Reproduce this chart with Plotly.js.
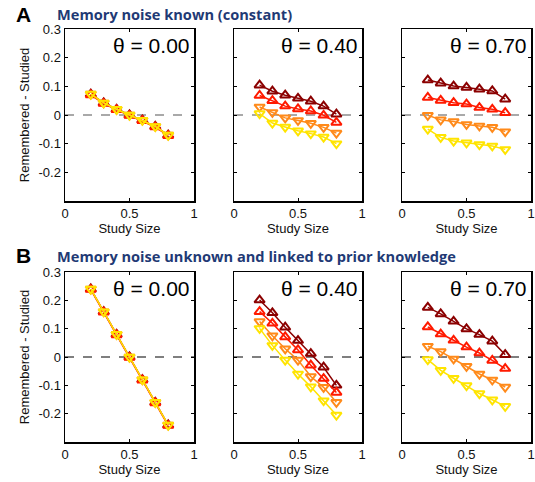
<!DOCTYPE html>
<html><head><meta charset="utf-8">
<script src="https://cdn.plot.ly/plotly-3.0.1.min.js"></script>
<style>html,body{margin:0;padding:0;background:#fff}</style></head>
<body><div id="chart" style="width:535px;height:482px"></div>
<script>
// ---- data ----
const studySize = [0.2, 0.3, 0.4, 0.5, 0.6, 0.7, 0.8];
const thetaLabels = ["θ = 0.00", "θ = 0.40", "θ = 0.70"];
const xTickVals = [0, 0.5, 1];
const xTickText = ["0", "0.5", "1"];
const yTickVals = [0.3, 0.2, 0.1, 0, -0.1, -0.2];
const yTickText = ["0.3", "0.2", "0.1", "0", "-0.1", "-0.2"];

// Panel A (memory noise known)
const A_t00_s1 = [0.073, 0.042, 0.020, 0.000, -0.018, -0.040, -0.070];
const A_t00_s2 = [0.070, 0.040, 0.018, -0.002, -0.020, -0.042, -0.072];
const A_t00_s3 = [0.073, 0.042, 0.020, 0.000, -0.018, -0.040, -0.070];
const A_t00_s4 = [0.073, 0.042, 0.020, 0.000, -0.018, -0.040, -0.070];

const A_t40_s1 = [0.104, 0.083, 0.069, 0.058, 0.048, 0.031, 0.003];
const A_t40_s2 = [0.068, 0.050, 0.031, 0.021, 0.014, -0.001, -0.026];
const A_t40_s3 = [0.028, 0.009, -0.010, -0.019, -0.029, -0.043, -0.063];
const A_t40_s4 = [0.005, -0.028, -0.042, -0.055, -0.065, -0.077, -0.100];

const A_t70_s1 = [0.122, 0.111, 0.101, 0.096, 0.090, 0.084, 0.055];
const A_t70_s2 = [0.061, 0.051, 0.043, 0.038, 0.026, 0.020, 0.008];
const A_t70_s3 = [-0.001, -0.017, -0.023, -0.033, -0.038, -0.043, -0.058];
const A_t70_s4 = [-0.049, -0.078, -0.091, -0.097, -0.103, -0.108, -0.120];

// Panel B (memory noise unknown, linked to prior knowledge)
const B_t00_s1 = [0.240, 0.160, 0.080, 0.000, -0.080, -0.160, -0.240];
const B_t00_s2 = [0.238, 0.158, 0.078, -0.002, -0.082, -0.162, -0.242];
const B_t00_s3 = [0.240, 0.160, 0.080, 0.000, -0.080, -0.160, -0.240];
const B_t00_s4 = [0.240, 0.160, 0.080, 0.000, -0.080, -0.160, -0.240];

const B_t40_s1 = [0.201, 0.156, 0.105, 0.058, 0.012, -0.036, -0.100];
const B_t40_s2 = [0.160, 0.119, 0.071, 0.025, -0.029, -0.076, -0.125];
const B_t40_s3 = [0.125, 0.075, 0.029, -0.011, -0.069, -0.107, -0.160];
const B_t40_s4 = [0.101, 0.041, -0.011, -0.060, -0.105, -0.154, -0.205];

const B_t70_s1 = [0.175, 0.152, 0.126, 0.099, 0.079, 0.056, 0.008];
const B_t70_s2 = [0.106, 0.081, 0.059, 0.035, 0.014, -0.012, -0.041];
const B_t70_s3 = [0.038, 0.019, -0.007, -0.033, -0.060, -0.081, -0.106];
const B_t70_s4 = [-0.009, -0.047, -0.075, -0.101, -0.129, -0.151, -0.174];

const seriesColors = ["#8B0000", "#FF1A00", "#FF8A1A", "#FFE400"];
const seriesSymbols = ["triangle-up-open", "triangle-up-open", "triangle-down-open", "triangle-down-open"];

const panels = [
  [A_t00_s1, A_t00_s2, A_t00_s3, A_t00_s4],
  [A_t40_s1, A_t40_s2, A_t40_s3, A_t40_s4],
  [A_t70_s1, A_t70_s2, A_t70_s3, A_t70_s4],
  [B_t00_s1, B_t00_s2, B_t00_s3, B_t00_s4],
  [B_t40_s1, B_t40_s2, B_t40_s3, B_t40_s4],
  [B_t70_s1, B_t70_s2, B_t70_s3, B_t70_s4]
];

// ---- layout geometry ----
const W = 535, H = 482;
const colPx = [[65, 194], [234, 362], [402, 531]];
const rowPx = [[29, 201], [272, 442]];
const FONT = "Liberation Sans, Arial, sans-serif";
const TFONT = "Open Sans, sans-serif";

const traces = [];
const layout = {
  width: W, height: H,
  margin: {l: 0, r: 0, t: 0, b: 0},
  paper_bgcolor: "#fff", plot_bgcolor: "#fff",
  showlegend: false,
  font: {family: FONT, size: 13, color: "#000"},
  annotations: [], shapes: []
};

panels.forEach((series, p) => {
  const row = Math.floor(p / 3), col = p % 3;
  const n = p + 1;
  const xa = n === 1 ? "x" : "x" + n;
  const ya = n === 1 ? "y" : "y" + n;
  series.forEach((vals, s) => {
    traces.push({
      x: studySize, y: vals, xaxis: xa, yaxis: ya,
      type: "scatter", mode: "lines+markers",
      line: {color: seriesColors[s], width: 1.5},
      marker: {symbol: seriesSymbols[s], size: 9, color: seriesColors[s],
               line: {color: seriesColors[s], width: 2}},
      hoverinfo: "skip"
    });
  });
  const xKey = n === 1 ? "xaxis" : "xaxis" + n;
  const yKey = n === 1 ? "yaxis" : "yaxis" + n;
  layout[xKey] = {
    domain: [colPx[col][0] / W, colPx[col][1] / W],
    anchor: ya, range: [0, 1], tickvals: xTickVals, ticktext: xTickText,
    ticks: "inside", ticklen: 3, tickcolor: "#000", showline: true,
    linecolor: "#000", linewidth: 1.5, mirror: "ticks", showgrid: false, zeroline: false,
    tickfont: {family: FONT, size: 13, color: "#111"},
    title: {text: "Study Size", font: {family: FONT, size: 13, color: "#111"}, standoff: 4}
  };
  layout[yKey] = {
    domain: [1 - rowPx[row][1] / H, 1 - rowPx[row][0] / H],
    anchor: xa, range: [-0.3, 0.3], tickvals: yTickVals, ticktext: yTickText,
    ticks: "inside", ticklen: 3, tickcolor: "#000", showline: true,
    linecolor: "#000", linewidth: 1.5, mirror: "ticks", showgrid: false, zeroline: false,
    showticklabels: col === 0,
    tickfont: {family: FONT, size: 13, color: "#111"},
    title: col === 0 ? {text: "Remembered - Studied", font: {family: FONT, size: 13, color: "#111"}, standoff: 6} : {text: ""}
  };
  layout.shapes.push({
    type: "line", xref: xa + " domain", yref: ya, x0: 0, x1: 1, y0: 0, y1: 0,
    line: {color: row === 0 ? "#555" : "#000", width: 1.2, dash: "dash"}, layer: "below"
  });
  layout.annotations.push({
    xref: xa + " domain", yref: ya + " domain", x: 0.98, y: 0.985,
    xanchor: "right", yanchor: "top", showarrow: false,
    text: thetaLabels[col], font: {family: FONT, size: 21, color: "#000"}
  });
});

// panel letters and titles
layout.annotations.push(
  {xref: "paper", yref: "paper", x: 14 / W, y: 1 - 14 / H, xanchor: "left", yanchor: "middle",
   showarrow: false, text: "<b>A</b>", font: {family: FONT, size: 21, color: "#000"}},
  {xref: "paper", yref: "paper", x: 55 / W, y: 1 - 14 / H, xanchor: "left", yanchor: "middle",
   showarrow: false, text: "<b>Memory noise known (constant)</b>", font: {family: TFONT, size: 14.6, color: "#1F3A75"}},
  {xref: "paper", yref: "paper", x: 14 / W, y: 1 - 255 / H, xanchor: "left", yanchor: "middle",
   showarrow: false, text: "<b>B</b>", font: {family: FONT, size: 21, color: "#000"}},
  {xref: "paper", yref: "paper", x: 55 / W, y: 1 - 256 / H, xanchor: "left", yanchor: "middle",
   showarrow: false, text: "<b>Memory noise unknown and linked to prior knowledge</b>", font: {family: TFONT, size: 14.6, color: "#1F3A75"}}
);

Plotly.newPlot("chart", traces, layout, {staticPlot: true, displayModeBar: false});
</script>
</body></html>
